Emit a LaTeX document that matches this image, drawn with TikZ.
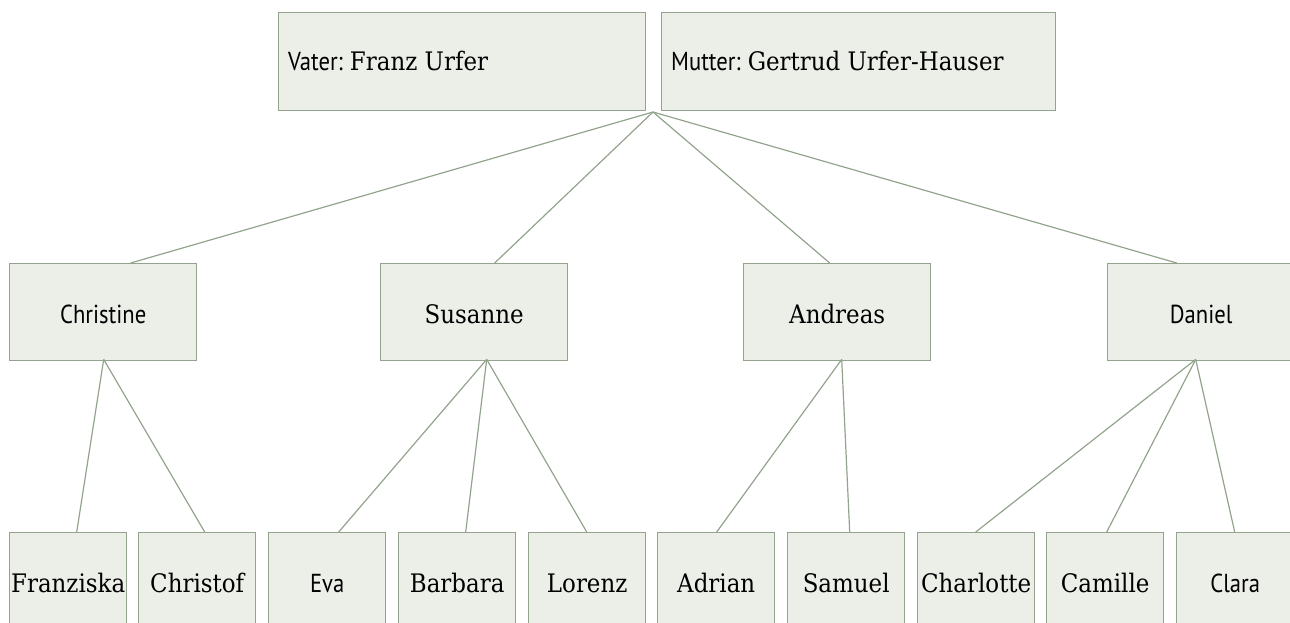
\documentclass[tikz,border=0pt]{standalone}
\usepackage{fontspec}
\setmainfont{DejaVu Serif}[FakeStretch=0.9]
\newfontfamily\condsans{PT Sans}[FakeStretch=0.87]
\definecolor{boxfill}{HTML}{ECEEE8}
\definecolor{boxline}{HTML}{93A38D}
\begin{document}
\begin{tikzpicture}[x=1pt,y=-1pt,
  famframe/.style={draw=boxline, line width=1.4pt, fill=boxfill, inner sep=0pt, anchor=north west},
  parentbox/.style={famframe, minimum height=98},
  childbox/.style={famframe, minimum width=187, minimum height=97, text height=23, text depth=0},
  grandbox/.style={famframe, minimum width=117, minimum height=97, text height=23, text depth=0},
  sf/.style={font=\condsans\fontsize{26}{30}\selectfont},
  rm/.style={font=\fontsize{25.5}{30}\selectfont},
  famlink/.style={draw=boxline, line width=1.2pt}]
\useasboundingbox (0,0) rectangle (1290,623);
\clip (0,0) rectangle (1290,623);
% parents
\node[parentbox, minimum width=367] (vater) at (278,12) {};
\node[parentbox, minimum width=394] (mutter) at (661,12) {};
\node[anchor=base west, inner sep=0pt] (vatert) at (288,71)
  {{\condsans\fontsize{26}{30}\selectfont Vater:}{\fontsize{25.5}{30}\selectfont\ Franz Urfer}};
\node[anchor=base west, inner sep=0pt] (muttert) at (671,71)
  {{\condsans\fontsize{26}{30}\selectfont Mutter:}{\fontsize{25.5}{30}\selectfont\ Gertrud Urfer-Hauser}};
\coordinate (p) at (653,112);
% children
\node[childbox, sf] (christine) at (9,263) {Christine};
\node[childbox, rm] (susanne) at (380,263) {Susanne};
\node[childbox, rm] (andreas) at (743,263) {Andreas};
\node[childbox, sf] (daniel) at (1107,263) {Daniel};
% grandchildren
\node[grandbox, rm] (franziska) at (9,532) {Franziska};
\node[grandbox, rm] (christof) at (138,532) {Christof};
\node[grandbox, sf] (eva) at (268,532) {Eva};
\node[grandbox, rm] (barbara) at (398,532) {Barbara};
\node[grandbox, rm] (lorenz) at (528,532) {Lorenz};
\node[grandbox, rm] (adrian) at (657,532) {Adrian};
\node[grandbox, rm] (samuel) at (787,532) {Samuel};
\node[grandbox, rm] (charlotte) at (917,532) {Charlotte};
\node[grandbox, rm] (camille) at (1046,532) {Camille};
\node[grandbox, sf] (clara) at (1176,532) {Clara};
% links parents -> children
\draw[famlink] (p) -- ([xshift=27.5]christine.north);
\draw[famlink] (p) -- ([xshift=20.5]susanne.north);
\draw[famlink] (p) -- ([xshift=-7.5]andreas.north);
\draw[famlink] (p) -- ([xshift=-24.5]daniel.north);
% links children -> grandchildren
\draw[famlink] ([xshift=0.5,yshift=2]christine.south) -- ([xshift=8.5]franziska.north);
\draw[famlink] ([xshift=0.5,yshift=2]christine.south) -- ([xshift=7.5]christof.north);
\draw[famlink] ([xshift=12.5,yshift=2]susanne.south) -- ([xshift=11.5]eva.north);
\draw[famlink] ([xshift=12.5,yshift=2]susanne.south) -- ([xshift=8.5]barbara.north);
\draw[famlink] ([xshift=12.5,yshift=2]susanne.south) -- ([xshift=-0.5]lorenz.north);
\draw[famlink] ([xshift=4.5,yshift=2]andreas.south) -- ([xshift=0.5]adrian.north);
\draw[famlink] ([xshift=4.5,yshift=2]andreas.south) -- ([xshift=3.5]samuel.north);
\draw[famlink] ([xshift=-5.5,yshift=2]daniel.south) -- ([xshift=-0.5]charlotte.north);
\draw[famlink] ([xshift=-5.5,yshift=2]daniel.south) -- ([xshift=1.5]camille.north);
\draw[famlink] ([xshift=-5.5,yshift=2]daniel.south) -- ([xshift=-0.5]clara.north);
\end{tikzpicture}
\end{document}
